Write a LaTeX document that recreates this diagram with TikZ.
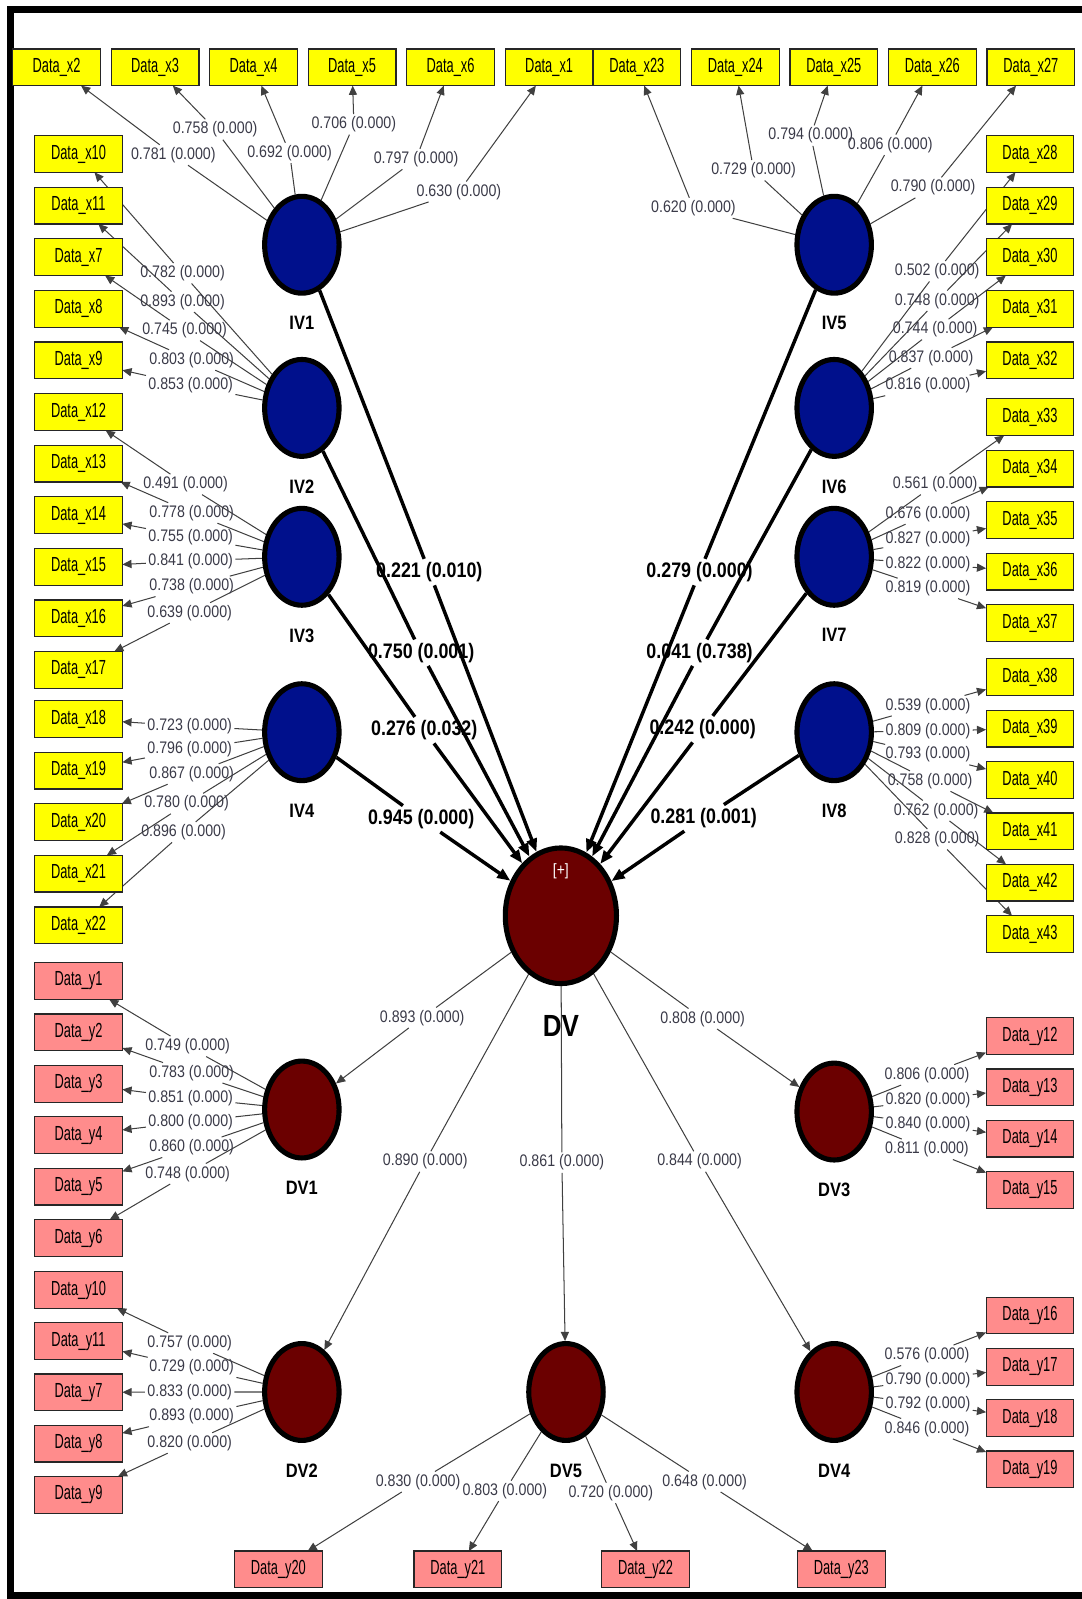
\documentclass[tikz,border=0pt]{standalone}
\usepackage{fontspec}
\usepackage{tikz}
\usetikzlibrary{shapes.geometric, positioning, arrows.meta, backgrounds}
\newfontfamily\numfont{Liberation Sans}[FakeStretch=0.85]
\newfontfamily\boxfont{Liberation Sans}[FakeStretch=0.63]
\definecolor{ivblue}{HTML}{00108C}
\definecolor{dvred}{HTML}{6B0000}
\definecolor{indyellow}{HTML}{FFFF00}
\definecolor{indpink}{HTML}{FF8C8C}
\definecolor{lblgray}{HTML}{3A3A48}
\tikzset{
  latent/.style={ellipse, draw=black, line width=2.5pt, minimum width=36.5pt, minimum height=47.5pt, inner sep=0},
  ivar/.style={latent, fill=ivblue},
  dvar/.style={latent, fill=dvred},
  indicator/.style={draw=black!85, line width=0.6pt, minimum width=43pt, minimum height=18pt, inner sep=0, outer sep=0, font=\boxfont\fontsize{10}{11}\selectfont},
  xind/.style={indicator, fill=indyellow},
  yind/.style={indicator, fill=indpink},
  lvname/.style={font=\numfont\bfseries\fontsize{9.5}{10}\selectfont, inner sep=0},
  lbl/.style={font=\numfont\fontsize{8.2}{9}\selectfont, text=lblgray, inner sep=1pt},
  blbl/.style={font=\numfont\bfseries\fontsize{10.3}{11}\selectfont, inner sep=1.5pt},
  loading/.style={-{Triangle[length=4.5pt, width=4pt]}, draw=black!75, line width=0.5pt},
  beta/.style={-{Triangle[length=6.5pt, width=5pt]}, draw=black, line width=1.7pt}
}

\begin{document}
\begin{tikzpicture}[x=0.5pt, y=-0.5pt]
  \useasboundingbox (0,0) rectangle (1061,1568);
  \draw[line width=3.5pt] (1061,9.5) -- (10.5,9.5) -- (10.5,1564.5) -- (1061,1564.5);

  \node[ivar] (IV1) at (296,240) {};
  \node[lvname, below=10pt of IV1] (IV1name) {IV1};
  \node[ivar] (IV2) at (296,400) {};
  \node[lvname, below=10pt of IV2] (IV2name) {IV2};
  \node[ivar] (IV3) at (296,546) {};
  \node[lvname, below=10pt of IV3] (IV3name) {IV3};
  \node[ivar] (IV4) at (296,718) {};
  \node[lvname, below=10pt of IV4] (IV4name) {IV4};
  \node[ivar] (IV5) at (818,240) {};
  \node[lvname, below=10pt of IV5] (IV5name) {IV5};
  \node[ivar] (IV6) at (818,400) {};
  \node[lvname, below=10pt of IV6] (IV6name) {IV6};
  \node[ivar] (IV7) at (818,546) {};
  \node[lvname, below=10pt of IV7] (IV7name) {IV7};
  \node[ivar] (IV8) at (818,718) {};
  \node[lvname, below=10pt of IV8] (IV8name) {IV8};
  \node[dvar, minimum width=54.5pt, minimum height=66.5pt] (DV) at (550,898) {};
  \node[font=\numfont\fontsize{8}{9}\selectfont, text=white, inner sep=0] (DVplus) at ([yshift=22pt]DV.center) {[+]};
  \node[lvname, font=\numfont\bfseries\fontsize{15}{16}\selectfont, below=14pt of DV] (DVname) {DV};
  \node[dvar] (DV1) at (296,1088) {};
  \node[lvname, below=10pt of DV1] (DV1name) {DV1};
  \node[dvar] (DV2) at (296,1365) {};
  \node[lvname, below=10pt of DV2] (DV2name) {DV2};
  \node[dvar] (DV3) at (818,1090) {};
  \node[lvname, below=10pt of DV3] (DV3name) {DV3};
  \node[dvar] (DV4) at (818,1365) {};
  \node[lvname, below=10pt of DV4] (DV4name) {DV4};
  \node[dvar] (DV5) at (555,1365) {};
  \node[lvname, below=10pt of DV5] (DV5name) {DV5};

  \node[xind] (x2) at (55.5,66) {Data\_x2};
  \node[xind, right=5.3pt of x2] (x3) {Data\_x3};
  \node[xind, right=5.3pt of x3] (x4) {Data\_x4};
  \node[xind, right=5.3pt of x4] (x5) {Data\_x5};
  \node[xind, right=5.3pt of x5] (x6) {Data\_x6};
  \node[xind, right=5.3pt of x6] (x1) {Data\_x1};
  \node[xind, right=0pt of x1] (x23) {Data\_x23};
  \node[xind, right=5.3pt of x23] (x24) {Data\_x24};
  \node[xind, right=5.3pt of x24] (x25) {Data\_x25};
  \node[xind, right=5.3pt of x25] (x26) {Data\_x26};
  \node[xind, right=5.3pt of x26] (x27) {Data\_x27};

  \node[xind] (x10) at (77,151) {Data\_x10};
  \node[xind, below=7.3pt of x10] (x11) {Data\_x11};
  \node[xind, below=7.3pt of x11] (x7) {Data\_x7};
  \node[xind, below=7.3pt of x7] (x8) {Data\_x8};
  \node[xind, below=7.3pt of x8] (x9) {Data\_x9};
  \node[xind] (x12) at (77,404) {Data\_x12};
  \node[xind, below=7.3pt of x12] (x13) {Data\_x13};
  \node[xind, below=7.3pt of x13] (x14) {Data\_x14};
  \node[xind, below=7.3pt of x14] (x15) {Data\_x15};
  \node[xind, below=7.3pt of x15] (x16) {Data\_x16};
  \node[xind, below=7.3pt of x16] (x17) {Data\_x17};
  \node[xind] (x18) at (77,705) {Data\_x18};
  \node[xind, below=7.3pt of x18] (x19) {Data\_x19};
  \node[xind, below=7.3pt of x19] (x20) {Data\_x20};
  \node[xind, below=7.3pt of x20] (x21) {Data\_x21};
  \node[xind, below=7.3pt of x21] (x22) {Data\_x22};
  \node[yind] (y1) at (77,962) {Data\_y1};
  \node[yind, below=7.2pt of y1] (y2) {Data\_y2};
  \node[yind, below=7.2pt of y2] (y3) {Data\_y3};
  \node[yind, below=7.2pt of y3] (y4) {Data\_y4};
  \node[yind, below=7.2pt of y4] (y5) {Data\_y5};
  \node[yind, below=7.2pt of y5] (y6) {Data\_y6};
  \node[yind] (y10) at (77,1265) {Data\_y10};
  \node[yind, below=7.1pt of y10] (y11) {Data\_y11};
  \node[yind, below=7.1pt of y11] (y7) {Data\_y7};
  \node[yind, below=7.1pt of y7] (y8) {Data\_y8};
  \node[yind, below=7.1pt of y8] (y9) {Data\_y9};

  \node[xind] (x28) at (1010,151) {Data\_x28};
  \node[xind, below=7.3pt of x28] (x29) {Data\_x29};
  \node[xind, below=7.3pt of x29] (x30) {Data\_x30};
  \node[xind, below=7.3pt of x30] (x31) {Data\_x31};
  \node[xind, below=7.3pt of x31] (x32) {Data\_x32};
  \node[xind] (x33) at (1010,409) {Data\_x33};
  \node[xind, below=7.25pt of x33] (x34) {Data\_x34};
  \node[xind, below=7.25pt of x34] (x35) {Data\_x35};
  \node[xind, below=7.25pt of x35] (x36) {Data\_x36};
  \node[xind, below=7.25pt of x36] (x37) {Data\_x37};
  \node[xind] (x38) at (1010,664) {Data\_x38};
  \node[xind, below=7.2pt of x38] (x39) {Data\_x39};
  \node[xind, below=7.2pt of x39] (x40) {Data\_x40};
  \node[xind, below=7.2pt of x40] (x41) {Data\_x41};
  \node[xind, below=7.2pt of x41] (x42) {Data\_x42};
  \node[xind, below=7.2pt of x42] (x43) {Data\_x43};
  \node[yind] (y12) at (1010,1016) {Data\_y12};
  \node[yind, below=7.15pt of y12] (y13) {Data\_y13};
  \node[yind, below=7.15pt of y13] (y14) {Data\_y14};
  \node[yind, below=7.15pt of y14] (y15) {Data\_y15};
  \node[yind] (y16) at (1010,1290) {Data\_y16};
  \node[yind, below=7.15pt of y16] (y17) {Data\_y17};
  \node[yind, below=7.15pt of y17] (y18) {Data\_y18};
  \node[yind, below=7.15pt of y18] (y19) {Data\_y19};

  \node[yind] (y20) at (273,1539) {Data\_y20};
  \node[yind, right=45pt of y20] (y21) {Data\_y21};
  \node[yind, right=49pt of y21] (y22) {Data\_y22};
  \node[yind, right=53pt of y22] (y23) {Data\_y23};

  \node[lbl] (lx2) at (170,152) {0.781 (0.000)};
  \node[lbl] (lx3) at (211,127) {0.758 (0.000)};
  \node[lbl] (lx4) at (284,150) {0.692 (0.000)};
  \node[lbl] (lx5) at (347,122) {0.706 (0.000)};
  \node[lbl] (lx6) at (408,156) {0.797 (0.000)};
  \node[lbl] (lx1) at (450,188) {0.630 (0.000)};
  \node[lbl] (lx10) at (179,268) {0.782 (0.000)};
  \node[lbl] (lx11) at (179,296) {0.893 (0.000)};
  \node[lbl] (lx7) at (181,324) {0.745 (0.000)};
  \node[lbl] (lx8) at (188,353) {0.803 (0.000)};
  \node[lbl] (lx9) at (187,378) {0.853 (0.000)};
  \node[lbl] (lx12) at (182,475) {0.491 (0.000)};
  \node[lbl] (lx13) at (188,503) {0.778 (0.000)};
  \node[lbl] (lx14) at (187,527) {0.755 (0.000)};
  \node[lbl] (lx15) at (187,550) {0.841 (0.000)};
  \node[lbl] (lx16) at (188,575) {0.738 (0.000)};
  \node[lbl] (lx17) at (186,601) {0.639 (0.000)};
  \node[lbl] (lx18) at (186,712) {0.723 (0.000)};
  \node[lbl] (lx19) at (186,735) {0.796 (0.000)};
  \node[lbl] (lx20) at (188,759) {0.867 (0.000)};
  \node[lbl] (lx21) at (183,788) {0.780 (0.000)};
  \node[lbl] (lx22) at (180,816) {0.896 (0.000)};
  \node[lbl] (lx23) at (680,204) {0.620 (0.000)};
  \node[lbl] (lx24) at (739,167) {0.729 (0.000)};
  \node[lbl] (lx25) at (795,133) {0.794 (0.000)};
  \node[lbl] (lx26) at (873,142) {0.806 (0.000)};
  \node[lbl] (lx27) at (915,184) {0.790 (0.000)};
  \node[lbl] (lx28) at (919,266) {0.502 (0.000)};
  \node[lbl] (lx29) at (919,295) {0.748 (0.000)};
  \node[lbl] (lx30) at (917,323) {0.744 (0.000)};
  \node[lbl] (lx31) at (913,351) {0.837 (0.000)};
  \node[lbl] (lx32) at (910,378) {0.816 (0.000)};
  \node[lbl] (lx33) at (917,475) {0.561 (0.000)};
  \node[lbl] (lx34) at (910,504) {0.676 (0.000)};
  \node[lbl] (lx35) at (910,529) {0.827 (0.000)};
  \node[lbl] (lx36) at (910,553) {0.822 (0.000)};
  \node[lbl] (lx37) at (910,577) {0.819 (0.000)};
  \node[lbl] (lx38) at (910,692) {0.539 (0.000)};
  \node[lbl] (lx39) at (910,717) {0.809 (0.000)};
  \node[lbl] (lx40) at (910,740) {0.793 (0.000)};
  \node[lbl] (lx41) at (912,766) {0.758 (0.000)};
  \node[lbl] (lx42) at (918,795) {0.762 (0.000)};
  \node[lbl] (lx43) at (919,823) {0.828 (0.000)};
  \node[lbl] (ly1) at (184,1026) {0.749 (0.000)};
  \node[lbl] (ly2) at (188,1052) {0.783 (0.000)};
  \node[lbl] (ly3) at (187,1077) {0.851 (0.000)};
  \node[lbl] (ly4) at (187,1100) {0.800 (0.000)};
  \node[lbl] (ly5) at (188,1125) {0.860 (0.000)};
  \node[lbl] (ly6) at (184,1151) {0.748 (0.000)};
  \node[lbl] (ly10) at (186,1317) {0.757 (0.000)};
  \node[lbl] (ly11) at (188,1341) {0.729 (0.000)};
  \node[lbl] (ly7) at (186,1365) {0.833 (0.000)};
  \node[lbl] (ly8) at (188,1389) {0.893 (0.000)};
  \node[lbl] (ly9) at (186,1415) {0.820 (0.000)};
  \node[lbl] (ly12) at (909,1054) {0.806 (0.000)};
  \node[lbl] (ly13) at (910,1079) {0.820 (0.000)};
  \node[lbl] (ly14) at (910,1102) {0.840 (0.000)};
  \node[lbl] (ly15) at (909,1127) {0.811 (0.000)};
  \node[lbl] (ly16) at (909,1329) {0.576 (0.000)};
  \node[lbl] (ly17) at (910,1353) {0.790 (0.000)};
  \node[lbl] (ly18) at (910,1377) {0.792 (0.000)};
  \node[lbl] (ly19) at (909,1401) {0.846 (0.000)};
  \node[lbl] (ly20) at (410,1453) {0.830 (0.000)};
  \node[lbl] (ly21) at (495,1462) {0.803 (0.000)};
  \node[lbl] (ly22) at (599,1464) {0.720 (0.000)};
  \node[lbl] (ly23) at (691,1453) {0.648 (0.000)};
  \node[lbl] (ldv1) at (414,998) {0.893 (0.000)};
  \node[lbl] (ldv2) at (417,1139) {0.890 (0.000)};
  \node[lbl] (ldv3) at (689,999) {0.808 (0.000)};
  \node[lbl] (ldv4) at (686,1139) {0.844 (0.000)};
  \node[lbl] (ldv5) at (551,1140) {0.861 (0.000)};
  \node[blbl] (bIV1) at (421,561) {0.221 (0.010)};
  \node[blbl] (bIV2) at (413,640) {0.750 (0.001)};
  \node[blbl] (bIV3) at (416,716) {0.276 (0.032)};
  \node[blbl] (bIV4) at (413,803) {0.945 (0.000)};
  \node[blbl] (bIV5) at (686,561) {0.279 (0.000)};
  \node[blbl] (bIV6) at (686,640) {0.041 (0.738)};
  \node[blbl] (bIV7) at (689,715) {0.242 (0.000)};
  \node[blbl] (bIV8) at (690,802) {0.281 (0.001)};

  \begin{scope}[on background layer]
    \draw[loading] (IV1) -- (lx2) -- (x2);
    \draw[loading] (IV1) -- (lx3) -- (x3);
    \draw[loading] (IV1) -- (lx4) -- (x4);
    \draw[loading] (IV1) -- (lx5) -- (x5);
    \draw[loading] (IV1) -- (lx6) -- (x6);
    \draw[loading] (IV1) -- (lx1) -- (x1);
    \draw[loading] (IV2) -- (lx10) -- (x10);
    \draw[loading] (IV2) -- (lx11) -- (x11);
    \draw[loading] (IV2) -- (lx7) -- (x7);
    \draw[loading] (IV2) -- (lx8) -- (x8);
    \draw[loading] (IV2) -- (lx9) -- (x9);
    \draw[loading] (IV3) -- (lx12) -- (x12);
    \draw[loading] (IV3) -- (lx13) -- (x13);
    \draw[loading] (IV3) -- (lx14) -- (x14);
    \draw[loading] (IV3) -- (lx15) -- (x15);
    \draw[loading] (IV3) -- (lx16) -- (x16);
    \draw[loading] (IV3) -- (lx17) -- (x17);
    \draw[loading] (IV4) -- (lx18) -- (x18);
    \draw[loading] (IV4) -- (lx19) -- (x19);
    \draw[loading] (IV4) -- (lx20) -- (x20);
    \draw[loading] (IV4) -- (lx21) -- (x21);
    \draw[loading] (IV4) -- (lx22) -- (x22);
    \draw[loading] (IV5) -- (lx23) -- (x23);
    \draw[loading] (IV5) -- (lx24) -- (x24);
    \draw[loading] (IV5) -- (lx25) -- (x25);
    \draw[loading] (IV5) -- (lx26) -- (x26);
    \draw[loading] (IV5) -- (lx27) -- (x27);
    \draw[loading] (IV6) -- (lx28) -- (x28);
    \draw[loading] (IV6) -- (lx29) -- (x29);
    \draw[loading] (IV6) -- (lx30) -- (x30);
    \draw[loading] (IV6) -- (lx31) -- (x31);
    \draw[loading] (IV6) -- (lx32) -- (x32);
    \draw[loading] (IV7) -- (lx33) -- (x33);
    \draw[loading] (IV7) -- (lx34) -- (x34);
    \draw[loading] (IV7) -- (lx35) -- (x35);
    \draw[loading] (IV7) -- (lx36) -- (x36);
    \draw[loading] (IV7) -- (lx37) -- (x37);
    \draw[loading] (IV8) -- (lx38) -- (x38);
    \draw[loading] (IV8) -- (lx39) -- (x39);
    \draw[loading] (IV8) -- (lx40) -- (x40);
    \draw[loading] (IV8) -- (lx41) -- (x41);
    \draw[loading] (IV8) -- (lx42) -- (x42);
    \draw[loading] (IV8) -- (lx43) -- (x43);
    \draw[loading] (DV1) -- (ly1) -- (y1);
    \draw[loading] (DV1) -- (ly2) -- (y2);
    \draw[loading] (DV1) -- (ly3) -- (y3);
    \draw[loading] (DV1) -- (ly4) -- (y4);
    \draw[loading] (DV1) -- (ly5) -- (y5);
    \draw[loading] (DV1) -- (ly6) -- (y6);
    \draw[loading] (DV2) -- (ly10) -- (y10);
    \draw[loading] (DV2) -- (ly11) -- (y11);
    \draw[loading] (DV2) -- (ly7) -- (y7);
    \draw[loading] (DV2) -- (ly8) -- (y8);
    \draw[loading] (DV2) -- (ly9) -- (y9);
    \draw[loading] (DV3) -- (ly12) -- (y12);
    \draw[loading] (DV3) -- (ly13) -- (y13);
    \draw[loading] (DV3) -- (ly14) -- (y14);
    \draw[loading] (DV3) -- (ly15) -- (y15);
    \draw[loading] (DV4) -- (ly16) -- (y16);
    \draw[loading] (DV4) -- (ly17) -- (y17);
    \draw[loading] (DV4) -- (ly18) -- (y18);
    \draw[loading] (DV4) -- (ly19) -- (y19);
    \draw[loading] (DV5) -- (ly20) -- (y20);
    \draw[loading] (DV5) -- (ly21) -- (y21);
    \draw[loading] (DV5) -- (ly22) -- (y22);
    \draw[loading] (DV5) -- (ly23) -- (y23);
    \draw[loading] (DV) -- (ldv1) -- (DV1);
    \draw[loading] (DV) -- (ldv2) -- (DV2);
    \draw[loading] (DV) -- (ldv3) -- (DV3);
    \draw[loading] (DV) -- (ldv4) -- (DV4);
    \draw[loading] (DV) -- (ldv5) -- (DV5);
    \draw[beta] (IV1) -- (bIV1) -- (DV);
    \draw[beta] (IV2) -- (bIV2) -- (DV);
    \draw[beta] (IV3) -- (bIV3) -- (DV);
    \draw[beta] (IV4) -- (bIV4) -- (DV);
    \draw[beta] (IV5) -- (bIV5) -- (DV);
    \draw[beta] (IV6) -- (bIV6) -- (DV);
    \draw[beta] (IV7) -- (bIV7) -- (DV);
    \draw[beta] (IV8) -- (bIV8) -- (DV);
  \end{scope}
\end{tikzpicture}
\end{document}
